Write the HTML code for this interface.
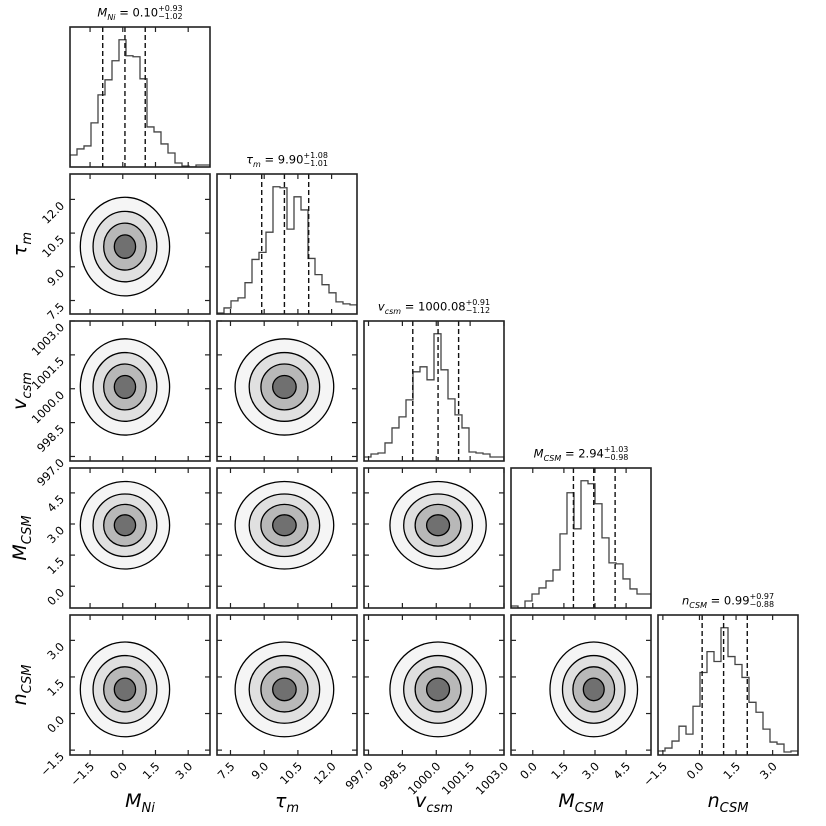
<!DOCTYPE html>
<html><head><meta charset="utf-8">
<style>
html,body{margin:0;padding:0;background:#fff;}
#wrap{position:relative;width:826px;height:826px;overflow:hidden;font-family:"DejaVu Sans","Liberation Sans",sans-serif;}
svg{position:absolute;left:0;top:0;}
.ttl{position:absolute;font-size:11.5px;white-space:nowrap;transform:translateX(-50%);color:#000;}
.ttl .st{display:inline-block;vertical-align:middle;font-size:8px;line-height:8px;text-align:left;}
.lab{position:absolute;font-size:19px;white-space:nowrap;color:#000;}
.lab sub{font-size:13px;}
</style></head>
<body>
<div id="wrap">
<svg id="svg" width="826" height="826"></svg>
</div>
<script>
const varNames=['M_Ni','tau_m','v_csm','M_CSM','n_CSM'];
const axLo=[-2.42,6.9,996.8,-1.05,-1.7];
const axHi=[4.0,13.13,1003.0,5.7,4.04];
const tickVals=[[-1.5,0,1.5,3],[7.5,9,10.5,12],[997,998.5,1000,1001.5,1003],[0,1.5,3,4.5],[-1.5,0,1.5,3]];
const histMNi=[12,18,21,44,72,87,106,127,111,110,88,40,35,23,14,4,1,0,2,2];
const histTau=[1,6,13,16,31,54,61,81,126,125,84,116,103,55,39,29,21,12,10,9];
const histV=[4,7,8,18,33,44,61,89,94,81,127,91,62,46,33,9,8,7,4,4];
const histMCSM=[2,0,7,14,20,27,38,74,115,79,127,124,104,70,45,44,29,19,14,14];
const histN=[4,7,14,29,21,49,83,104,94,128,99,91,78,53,43,26,13,11,3,4];
const medians=[0.10,9.90,1000.08,2.94,0.99];
const errPlus=[0.93,1.08,0.91,1.03,0.97];
const errMinus=[1.02,1.01,1.12,0.98,0.88];
const levelSig=[2.1,1.5,1.0,0.5];
const levelFill=['#f5f5f5','#e0e0e0','#b8b8b8','#707070'];

const hists=[histMNi,histTau,histV,histMCSM,histN];
const NS='http://www.w3.org/2000/svg';
const svg=document.getElementById('svg');
const wrap=document.getElementById('wrap');
const S=140,P0X=70,P0Y=27,STEP=147;
function mk(tag,attrs,parent){const e=document.createElementNS(NS,tag);for(const k in attrs)e.setAttribute(k,attrs[k]);(parent||svg).appendChild(e);return e;}
function sx(j,v){return P0X+STEP*j+(v-axLo[j])/(axHi[j]-axLo[j])*S;}
function sy(i,v){const top=P0Y+STEP*i;return top+S-(v-axLo[i])/(axHi[i]-axLo[i])*S;}

for(let i=0;i<5;i++){for(let j=0;j<=i;j++){
  const L=P0X+STEP*j,T=P0Y+STEP*i;
  const g=mk('g',{});
  
  
  const cp=mk('clipPath',{id:'c'+i+j},g);mk('rect',{x:L,y:T,width:S,height:S},cp);
  const inner=mk('g',{'clip-path':'url(#c'+i+j+')'},g);
  if(i===j){
    const h=hists[i];const ymax=Math.max(...h)*1.1;const bw=S/h.length;
    let d='M'+L+','+(T+S);
    h.forEach((c,k)=>{const y=T+S-c/ymax*S;d+=' L'+(L+k*bw)+','+y+' L'+(L+(k+1)*bw)+','+y;});
    d+=' L'+(L+S)+','+(T+S);
    const p=mk('path',{d:d,fill:'none',stroke:'#444','stroke-width':1.3},inner);
    
    
    [medians[i]-errMinus[i],medians[i],medians[i]+errPlus[i]].forEach((q,k)=>{
      const x=sx(j,q);
      const ln=mk('line',{x1:x,x2:x,y1:T,y2:T+S,stroke:'#111','stroke-width':1.4,'stroke-dasharray':'5,3'},inner);
      
      
    });
  } else {
    const sxg=(errPlus[j]+errMinus[j])/2,syg=(errPlus[i]+errMinus[i])/2;
    const cx=sx(j,medians[j]),cy=sy(i,medians[i]);
    const rxu=S/(axHi[j]-axLo[j]),ryu=S/(axHi[i]-axLo[i]);
    levelSig.forEach((r,k)=>{
      const e=mk('ellipse',{cx:cx,cy:cy,rx:r*sxg*rxu,ry:r*syg*ryu,fill:levelFill[k],stroke:'#000','stroke-width':1.3},inner);
      
      
    });
  }
  tickVals[j].forEach(v=>{const x=sx(j,v);if(x<L||x>L+S)return;
    mk('line',{x1:x,x2:x,y1:T,y2:T+5,stroke:'#222','stroke-width':1.2},g);
    mk('line',{x1:x,x2:x,y1:T+S,y2:T+S-5,stroke:'#222','stroke-width':1.2},g);});
  if(i!==j){tickVals[i].forEach(v=>{const y=sy(i,v);if(y<T||y>T+S)return;
    mk('line',{x1:L,x2:L+5,y1:y,y2:y,stroke:'#222','stroke-width':1.2},g);
    mk('line',{x1:L+S,x2:L+S-5,y1:y,y2:y,stroke:'#222','stroke-width':1.2},g);});}
  const fr=mk('rect',{x:L,y:T,width:S,height:S,fill:'none',stroke:'#222','stroke-width':1.6},g);
  
  
  if(i===4){tickVals[j].forEach(v=>{const x=sx(j,v);if(x<L-2||x>L+S+2)return;
    const t=mk('text',{x:x+5,y:T+S+12,'font-size':11.5,'text-anchor':'end',transform:'rotate(-45 '+(x+5)+' '+(T+S+12)+')'},svg);
    t.textContent=v.toFixed(1).replace('-','\u2212');
    
    });}
  if(j===0&&i>0){tickVals[i].forEach(v=>{const y=sy(i,v);if(y<T-2||y>T+S+2)return;
    const t=mk('text',{x:L-5,y:y+7,'font-size':11.5,'text-anchor':'end',transform:'rotate(-45 '+(L-5)+' '+(y+7)+')'},svg);
    t.textContent=v.toFixed(1).replace('-','\u2212');
    
    });}
}}

const labelHTML=['<i>M</i><sub><i>Ni</i></sub>','<i>τ</i><sub><i>m</i></sub>','<i>v</i><sub><i>csm</i></sub>','<i>M</i><sub><i>CSM</i></sub>','<i>n</i><sub><i>CSM</i></sub>'];
for(let k=0;k<5;k++){
  const t=document.createElement('div');t.className='ttl';
  
  
  t.style.left=(P0X+STEP*k+S/2)+'px';t.style.top=(P0Y+STEP*k-22)+'px';
  t.innerHTML=labelHTML[k].replace(/<sub>/,'<sub style="font-size:8px">')+' = '+medians[k].toFixed(2)+'<span class="st">+'+errPlus[k].toFixed(2)+'<br>\u2212'+errMinus[k].toFixed(2)+'</span>';
  wrap.appendChild(t);
  const b=document.createElement('div');b.className='lab';
  
  
  b.innerHTML=labelHTML[k];
  b.style.left=(P0X+STEP*k+S/2)+'px';b.style.top='790px';b.style.transform='translateX(-50%)';
  wrap.appendChild(b);
  if(k>0){const y=document.createElement('div');y.className='lab';
    
    
    y.innerHTML=labelHTML[k];
    y.style.left='22px';y.style.top=(P0Y+STEP*k+S/2)+'px';
    y.style.transform='translate(-50%,-50%) rotate(-90deg)';
    wrap.appendChild(y);}
}
</script>
</body></html>
